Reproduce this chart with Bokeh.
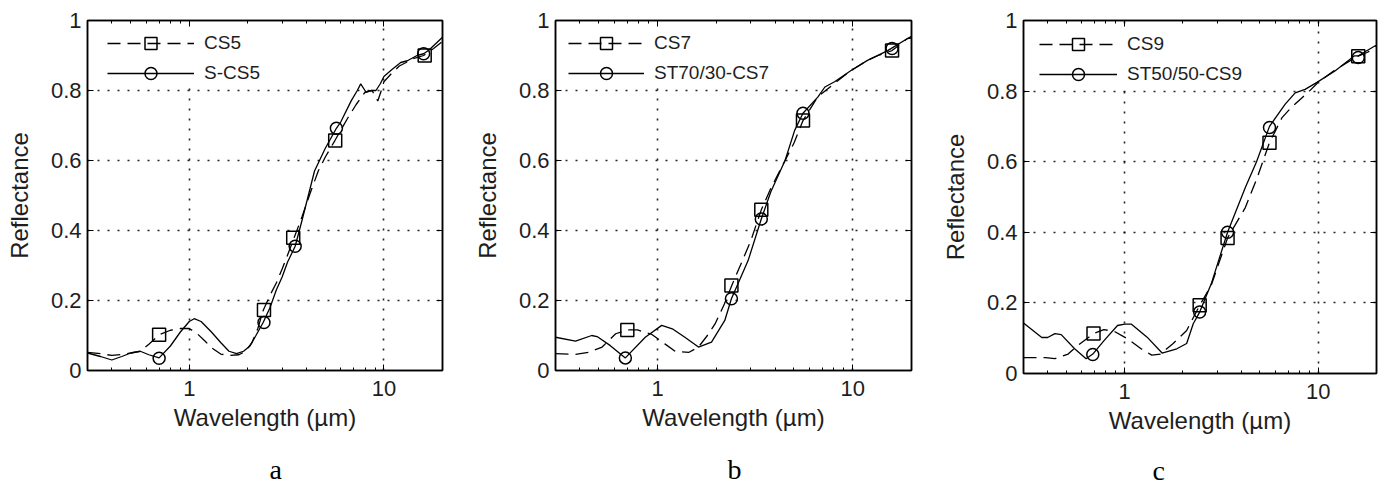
from bokeh.plotting import figure
from bokeh.layouts import row
from bokeh.models import (FixedTicker, LogAxis, LinearAxis, Legend, LegendItem,
                          Title, BasicTickFormatter, Range1d)
from bokeh.embed import file_html
from bokeh.resources import INLINE

# ---------------- tick definitions ----------------
X_MAJOR = [1, 10]
X_MINOR = [0.4, 0.5, 0.6, 0.7, 0.8, 0.9, 2, 3, 4, 5, 6, 7, 8, 9, 20]
X_TICK_LABELS = ["1", "10"]
Y_TICKS = [0, 0.2, 0.4, 0.6, 0.8, 1.0]
Y_TICK_LABELS = ["0", "0.2", "0.4", "0.6", "0.8", "1"]

# ---------------- panel a ----------------
a_cs_x = [0.3, 0.35, 0.4, 0.45, 0.5, 0.56, 0.62, 0.7, 0.8, 0.9, 1.0, 1.1, 1.2, 1.3, 1.45,
          1.6, 1.8, 1.95, 2.1, 2.25, 2.4, 2.6, 2.8, 3.0, 3.2, 3.45, 3.8, 4.2, 4.6, 5.0, 5.6,
          6.5, 7.2, 8.0, 8.7, 9.3, 9.7, 10, 11, 12, 13, 14, 16, 18, 20]
a_cs_y = [0.052, 0.048, 0.043, 0.046, 0.05, 0.055, 0.075, 0.102, 0.115, 0.12, 0.12, 0.105,
          0.085, 0.065, 0.047, 0.043, 0.045, 0.055, 0.08, 0.12, 0.172, 0.215, 0.25, 0.29,
          0.33, 0.378, 0.44, 0.51, 0.57, 0.61, 0.657, 0.72, 0.76, 0.795, 0.8, 0.77, 0.8,
          0.825, 0.85, 0.87, 0.88, 0.89, 0.9, 0.92, 0.94]
a_s_x = [0.3, 0.35, 0.4, 0.45, 0.5, 0.56, 0.62, 0.7, 0.8, 0.9, 1.0, 1.06, 1.15, 1.3, 1.45,
         1.6, 1.75, 1.9, 2.05, 2.2, 2.4, 2.6, 2.8, 3.0, 3.2, 3.5, 3.8, 4.4, 5.0, 5.7, 6.0,
         6.8, 7.3, 7.6, 8.1, 8.6, 9.1, 9.6, 10, 11, 12.2, 13.2, 14.8, 16, 17, 20]
a_s_y = [0.05, 0.04, 0.03, 0.04, 0.05, 0.055, 0.045, 0.036, 0.07, 0.11, 0.14, 0.148, 0.14,
         0.11, 0.08, 0.055, 0.048, 0.055, 0.07, 0.1, 0.138, 0.18, 0.23, 0.267, 0.31, 0.355,
         0.43, 0.57, 0.635, 0.692, 0.71, 0.771, 0.8, 0.819, 0.795, 0.8, 0.8, 0.82, 0.84,
         0.86, 0.88, 0.885, 0.9, 0.905, 0.915, 0.952]
a_sq_x = [0.7, 2.42, 3.42, 5.62, 16.2]
a_sq_y = [0.102, 0.173, 0.379, 0.657, 0.9]
a_ci_x = [0.7, 2.42, 3.5, 5.7, 16]
a_ci_y = [0.035, 0.137, 0.355, 0.692, 0.905]

# ---------------- panel b ----------------
b_cs_x = [0.3, 0.38, 0.445, 0.52, 0.61, 0.7, 0.79, 0.935, 1.09, 1.23, 1.45, 1.62, 1.8,
          1.97, 2.2, 2.4, 2.72, 3.0, 3.4, 3.8, 4.5, 5.0, 5.56, 6.6, 8.0, 9.8, 11.9, 13.5,
          15.9, 19, 20]
b_cs_y = [0.048, 0.046, 0.052, 0.067, 0.105, 0.116, 0.116, 0.103, 0.076, 0.055, 0.052,
          0.067, 0.1, 0.133, 0.19, 0.243, 0.314, 0.37, 0.459, 0.52, 0.6, 0.65, 0.714,
          0.781, 0.819, 0.857, 0.886, 0.9, 0.914, 0.948, 0.95]
b_s_x = [0.3, 0.38, 0.46, 0.49, 0.573, 0.684, 0.865, 1.05, 1.2, 1.38, 1.62, 1.89, 2.21,
         2.39, 2.91, 3.4, 3.8, 4.5, 5.04, 5.56, 6.62, 7.2, 8.07, 9.8, 11.9, 15.1, 19, 20]
b_s_y = [0.095, 0.084, 0.1, 0.097, 0.071, 0.036, 0.095, 0.129, 0.118, 0.095, 0.067, 0.081,
         0.143, 0.205, 0.314, 0.433, 0.51, 0.6, 0.686, 0.735, 0.781, 0.81, 0.825, 0.857,
         0.886, 0.914, 0.948, 0.955]
b_sq_x = [0.7, 2.39, 3.4, 5.56, 15.9]
b_sq_y = [0.116, 0.243, 0.459, 0.714, 0.914]
b_ci_x = [0.684, 2.39, 3.4, 5.56, 15.9]
b_ci_y = [0.036, 0.205, 0.433, 0.735, 0.92]

# ---------------- panel c ----------------
c_cs_x = [0.3, 0.33, 0.39, 0.436, 0.51, 0.574, 0.69, 0.78, 0.88, 1.03, 1.21, 1.38, 1.53,
          1.78, 2.09, 2.44, 2.8, 3.4, 4.2, 4.8, 5.6, 6.5, 7.3, 8.2, 9.0, 10, 12, 14, 16.1,
          18, 20]
c_cs_y = [0.045, 0.045, 0.045, 0.042, 0.055, 0.08, 0.113, 0.124, 0.12, 0.099, 0.071, 0.052,
          0.055, 0.085, 0.122, 0.193, 0.25, 0.384, 0.47, 0.55, 0.654, 0.725, 0.755, 0.78,
          0.8, 0.825, 0.857, 0.88, 0.899, 0.91, 0.93]
c_s_x = [0.3, 0.373, 0.4, 0.436, 0.47, 0.551, 0.632, 0.684, 0.784, 0.918, 1.0, 1.08, 1.306,
         1.56, 1.86, 2.09, 2.26, 2.44, 2.8, 3.4, 4.2, 4.8, 5.6, 6.75, 7.6, 8.55, 9.8, 12.2,
         15.4, 16.1, 19.5, 20]
c_s_y = [0.143, 0.102, 0.102, 0.113, 0.11, 0.07, 0.042, 0.055, 0.094, 0.136, 0.14, 0.14,
         0.103, 0.058, 0.07, 0.085, 0.141, 0.174, 0.254, 0.4, 0.527, 0.6, 0.7, 0.763, 0.795,
         0.805, 0.824, 0.857, 0.9, 0.9, 0.927, 0.93]
c_sq_x = [0.69, 2.44, 3.4, 5.6, 16.1]
c_sq_y = [0.113, 0.193, 0.384, 0.654, 0.899]
c_ci_x = [0.684, 2.44, 3.4, 5.6, 16.1]
c_ci_y = [0.054, 0.174, 0.40, 0.697, 0.895]

FONT = "Liberation Sans"
TXT = "#1e1e1e"


def make_panel(cs, s, sq, ci, labels, letter, geom):
    p = figure(x_axis_type="log", x_range=Range1d(0.3, 20), y_range=Range1d(0, 1),
               frame_width=geom["fw"], frame_height=geom["fh"],
               min_border_left=geom["bl"], min_border_right=geom["br"],
               min_border_top=geom["bt"], min_border_bottom=geom["bb"],
               output_backend="svg", toolbar_location=None)
    p.background_fill_color = "white"
    p.border_fill_color = "white"
    p.outline_line_color = "black"
    p.outline_line_width = 1.5

    xt = FixedTicker(ticks=X_MAJOR, minor_ticks=X_MINOR)
    yt = FixedTicker(ticks=Y_TICKS)

    xa = p.xaxis[0]
    xa.ticker = xt
    xa.formatter = BasicTickFormatter()
    xa.major_label_overrides = {t: l for t, l in zip(X_MAJOR, X_TICK_LABELS)}
    xa.axis_label = "Wavelength (µm)"
    ya = p.yaxis[0]
    ya.ticker = yt
    ya.major_label_overrides = {t: l for t, l in zip(Y_TICKS, Y_TICK_LABELS)}
    ya.axis_label = "Reflectance"

    for ax in (xa, ya):
        ax.axis_line_color = "black"
        ax.axis_line_width = 1.5
        ax.major_tick_in = 6
        ax.major_tick_out = 0
        ax.minor_tick_in = 3
        ax.minor_tick_out = 0
        ax.major_tick_line_color = "black"
        ax.minor_tick_line_color = "black"
        ax.major_label_text_font = FONT
        ax.major_label_text_font_size = "22px"
        ax.major_label_text_color = TXT
        ax.axis_label_text_font = FONT
        ax.axis_label_text_font_size = "24px"
        ax.axis_label_text_font_style = "normal"
        ax.axis_label_text_color = TXT
    xa.major_label_standoff = 10
    xa.axis_label_standoff = 5
    ya.major_label_standoff = 6
    ya.axis_label_standoff = 15
    ya.minor_tick_in = 0

    top = LogAxis(ticker=xt, major_label_text_font_size="2px", major_label_text_alpha=0,
                  major_tick_in=6, major_tick_out=0, minor_tick_in=3, minor_tick_out=0,
                  axis_line_width=1.5, major_label_standoff=0)
    right = LinearAxis(ticker=yt, major_label_text_font_size="2px", major_label_text_alpha=0,
                       major_tick_in=6, major_tick_out=0, minor_tick_in=0, minor_tick_out=0,
                       axis_line_width=1.5, major_label_standoff=0)
    p.add_layout(top, "above")
    p.add_layout(right, "right")

    for g in (p.xgrid[0], p.ygrid[0]):
        g.grid_line_color = "black"
        g.grid_line_width = 1.6
        g.grid_line_dash = "2 8"
        g.grid_line_alpha = 0.85
    p.xgrid[0].ticker = xt
    p.ygrid[0].ticker = yt

    l1 = p.line(cs[0], cs[1], line_color="black", line_width=1.3, line_dash="13 7")
    m1 = p.scatter(sq[0], sq[1], marker="square", size=13, fill_color=None,
                   line_color="black", line_width=1.5)
    l2 = p.line(s[0], s[1], line_color="black", line_width=1.3)
    m2 = p.scatter(ci[0], ci[1], marker="circle", size=12, fill_color=None,
                   line_color="black", line_width=1.5)

    leg = Legend(items=[LegendItem(label=labels[0], renderers=[l1, m1]),
                        LegendItem(label=labels[1], renderers=[l2, m2])],
                 location=(geom["lx"], geom["ly"]), glyph_width=geom["gw"], glyph_height=30,
                 label_height=20, label_standoff=geom["ls"], padding=5, spacing=-5,
                 margin=0,
                 border_line_color=None, background_fill_color="white",
                 background_fill_alpha=1.0, label_text_font=FONT,
                 label_text_font_size="19px", label_text_color=TXT)
    p.add_layout(leg)

    t = Title(text=letter, align="left", offset=geom["to"], text_font="Liberation Serif",
              text_font_size="28px", text_font_style="normal", text_color="black",
              standoff=geom["ts"])
    p.add_layout(t, "below")
    return p


pa = make_panel((a_cs_x, a_cs_y), (a_s_x, a_s_y), (a_sq_x, a_sq_y), (a_ci_x, a_ci_y),
                ["CS5", "S-CS5"], "a",
                dict(fw=355, fh=350, bl=87, br=20, bt=20, bb=116, lx=20, ly=282, gw=87,
                     ls=10, to=182, ts=37))
pb = make_panel((b_cs_x, b_cs_y), (b_s_x, b_s_y), (b_sq_x, b_sq_y), (b_ci_x, b_ci_y),
                ["CS7", "ST70/30-CS7"], "b",
                dict(fw=356, fh=350, bl=93, br=11, bt=20, bb=116, lx=13, ly=282, gw=76,
                     ls=10, to=172, ts=37))
pc = make_panel((c_cs_x, c_cs_y), (c_s_x, c_s_y), (c_sq_x, c_sq_y), (c_ci_x, c_ci_y),
                ["CS9", "ST50/50-CS9"], "c",
                dict(fw=353, fh=353, bl=101, br=10, bt=19, bb=114, lx=16, ly=284, gw=78,
                     ls=10, to=129, ts=33))

layout = row(pa, pb, pc)
open("out.html", "w").write(file_html(layout, INLINE))
